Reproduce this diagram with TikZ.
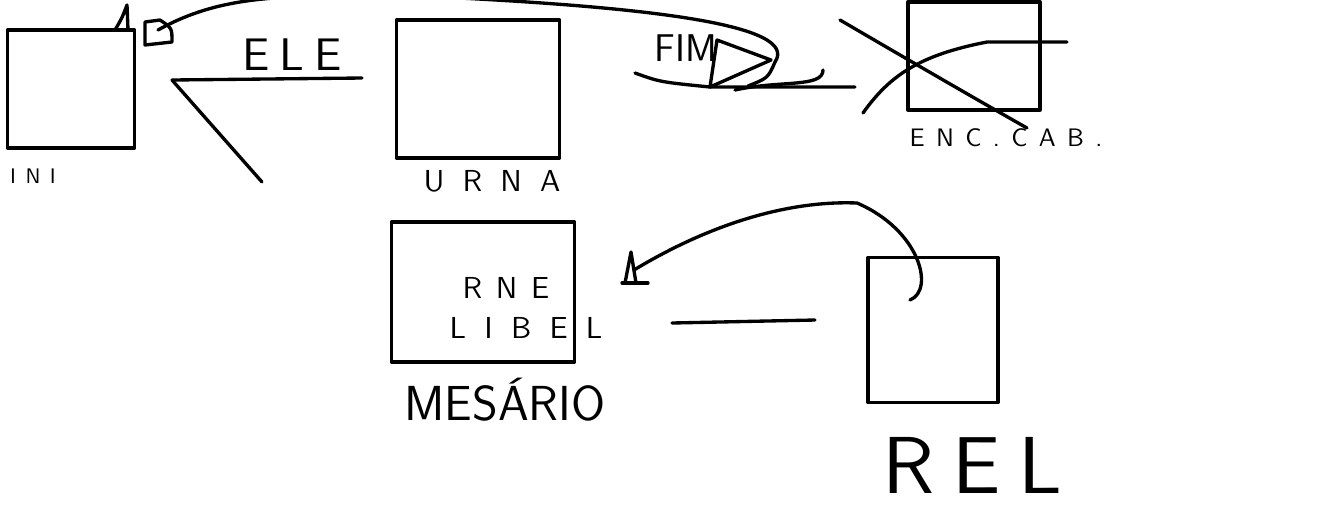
\documentclass[tikz,border=0pt]{standalone}
\usepackage{fontspec}
\newfontfamily\sfwideS{lmsans10-regular.otf}[LetterSpace=22]
\newfontfamily\sfwideM{lmsans10-regular.otf}[LetterSpace=45]
\newfontfamily\sfwideL{lmsans10-regular.otf}[LetterSpace=60]
\begin{document}
\begin{tikzpicture}[x=0.02cm,y=-0.02cm,
    pen/.style={line width=1.9pt,line cap=round,line join=round},
    box/.style={pen,draw,inner sep=0pt},
    lbl/.style={font=\sffamily}]
          \useasboundingbox (0,0) rectangle (1339,512);
          % boxes
          \node[box,minimum width=2.54cm,minimum height=2.36cm] (ini) at (71,89) {};
          \node[box,minimum width=3.26cm,minimum height=2.76cm] (urna) at (478,89) {};
          \node[box,minimum width=2.64cm,minimum height=2.16cm] (enc) at (974,56) {};
          \node[box,minimum width=3.66cm,minimum height=2.8cm] (mes) at (483,292) {};
          \node[box,minimum width=2.6cm,minimum height=2.9cm] (rel) at (933,330) {};
          % labels
          \node[lbl,font=\sfwideM\large] (ini-t) at (33,176) {INI};
          \node[lbl,font=\sfwideL\LARGE] (urna-t) at (492,181) {URNA};
          \node[lbl,font=\sfwideM\Large] (enc-t) at (1006,138) {ENC.CAB.};
          \node[lbl,font=\sffamily\fontsize{28}{32}\selectfont] (mes-t) at (505,400) {MESÁRIO};
          \node[lbl,font=\sfwideS\fontsize{46}{52}\selectfont] (rel-t) at (972,465) {REL};
          \node[lbl,font=\sfwideM\LARGE] (mes-a) at (506,288) {RNE};
          \node[lbl,font=\sfwideL\LARGE] (mes-b) at (526,328) {LIBEL};
          \node[lbl,font=\sfwideS\fontsize{26}{30}\selectfont] (ele) at (292,55) {ELE};
          \node[lbl,font=\sffamily\fontsize{22}{26}\selectfont] (fim) at (686,48) {FIM};
          % end points
          \coordinate (ele-a) at (172,80);
          \coordinate (ele-b) at (362,78);
          \coordinate (ele-c) at (262,182);
          \coordinate (fim-a) at (635,73);
          \coordinate (fim-b) at (710,87);
          \coordinate (fim-c) at (855,87);
          \coordinate (tip1) at (158,30);
          \coordinate (tip2) at (634,270);
          \coordinate (mid-a) at (672,323);
          \coordinate (mid-b) at (815,320);

          \draw[pen] (ele-a) -- (ele-b);
          \draw[pen] (ele-a) -- (ele-c);
          \draw[pen] (fim-a) .. controls (660,82) .. (fim-b) -- (fim-c);
          \draw[pen] (fim-b) -- (717,40) -- (771,60) -- cycle;
          \draw[pen] (735,90) .. controls (780,80) and (823,88) .. (823,70);
          \draw[pen] (tip1) .. controls (230,-10) and (300,-5) .. (460,-2)
                     .. controls (650,8) and (800,25) .. (775,62)
                     .. controls (768,78) .. (748,86);
          \draw[pen] (145,45) -- (145,22) -- (160,20) .. controls (172,28) .. (172,42) -- cycle;
          \draw[pen] (115,30) .. controls (122,18) .. (127,5) -- (128,30);
          \draw[pen] (840,20) .. controls (900,55) and (960,90) .. (1027,128);
          \draw[pen] (863,113) .. controls (890,75) and (920,55) .. (987,42) -- (1067,42);
          \draw[pen] (625,283) -- (631,252) -- (636,283) -- cycle;
          \draw[pen] (622,283) -- (648,283);
          \draw[pen] (tip2) .. controls (700,230) and (780,200) .. (857,203)
                     .. controls (920,230) and (935,290) .. (910,300);
          \draw[pen] (mid-a) -- (mid-b);
        \end{tikzpicture}
\end{document}
